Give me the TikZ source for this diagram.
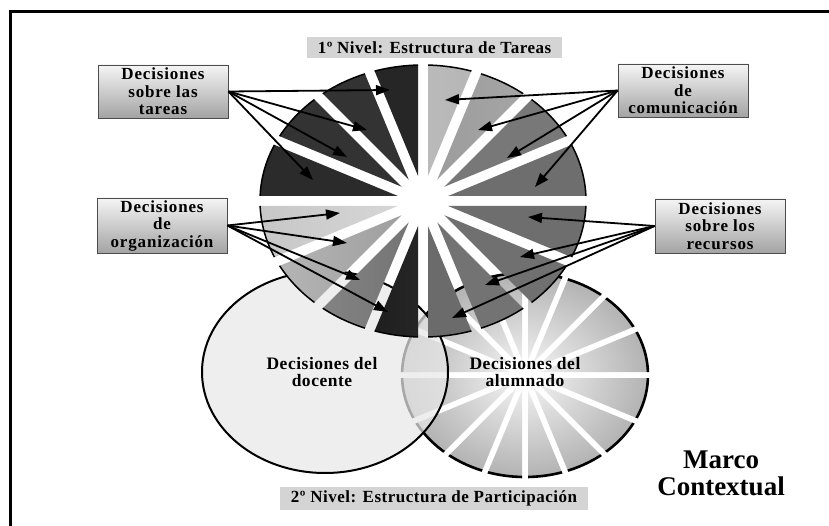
\documentclass[tikz,border=0pt]{standalone}
\usepackage{fontspec}
\setmainfont{Liberation Serif}
\newfontfamily\spacedfont[LetterSpace=5]{Liberation Serif}
\newfontfamily\titlefont[LetterSpace=3]{Liberation Serif}
\usetikzlibrary{calc,arrows.meta}
% one wedge of an elliptic wheel: cx, cy, rx, ry, start angle, half gap, style
\newcommand\wseg[7]{%
  \begin{scope}
    \clip ($(#1,#2)+(#5+11.25:{#6/sin(11.25)})$) -- +(#5:500) -- +(#5+22.5:500) -- cycle;
    \path[#7] (#1,#2) ellipse [x radius=#3, y radius=#4];
  \end{scope}}
\tikzset{
  dbox/.style={draw=black!70, line width=0.8, top color=black!4, bottom color=black!36,
    minimum width=130, inner sep=0, align=center,
    font=\spacedfont\bfseries\fontsize{17}{17.5}\selectfont},
  ttl/.style={fill=black!17, inner sep=0, font=\titlefont\bfseries\fontsize{17}{18}\selectfont},
  arr/.style={line width=1.8, -{Triangle[length=14pt,width=10pt]}},
  mw/.style={draw=black, line width=1.5},
  aw/.style={shade, inner color=black!3, outer color=black!30, draw=black, line width=2.6},
  elab/.style={align=center, font=\titlefont\bfseries\fontsize{17.5}{17.5}\selectfont}
}
\begin{document}
\begin{tikzpicture}[x=1pt,y=1pt]
\useasboundingbox (0,0) rectangle (829,525);
\clip (0,0) rectangle (829,525);
% frame
\draw[line width=3] (10,-20) -- (10,513.5) -- (860,513.5);
% second level: student wheel
\foreach \k in {0,...,15} {\wseg{525}{150}{123}{102}{\k*22.5}{3}{aw}}
% teacher ellipse
\path[fill=black!9, fill opacity=0.72, draw=black, line width=2] (325,153) ellipse [x radius=123, y radius=101];
% first level wheel
\wseg{423}{324}{163}{136}{0}{5}{mw, fill=black!57}
\wseg{423}{324}{163}{136}{22.5}{5}{mw, fill=black!53}
\wseg{423}{324}{163}{136}{45}{5}{mw, left color=black!45, right color=black!33}
\wseg{423}{324}{163}{136}{67.5}{5}{mw, left color=black!22, right color=black!32}
\wseg{423}{324}{163}{136}{90}{5}{mw, fill=black!85}
\wseg{423}{324}{163}{136}{112.5}{5}{mw, fill=black!80}
\wseg{423}{324}{163}{136}{135}{5}{mw, fill=black!80}
\wseg{423}{324}{163}{136}{157.5}{5}{mw, fill=black!83}
\wseg{423}{324}{163}{136}{180}{5}{mw, left color=black!22, right color=black!8}
\wseg{423}{324}{163}{136}{202.5}{5}{mw, left color=black!28, right color=black!50}
\wseg{423}{324}{163}{136}{225}{5}{mw, left color=black!45, right color=black!65}
\wseg{423}{324}{163}{136}{247.5}{5}{mw, left color=black!95, right color=black!75}
\wseg{423}{324}{163}{136}{270}{5}{mw, fill=black!58}
\wseg{423}{324}{163}{136}{292.5}{5}{mw, fill=black!55}
\wseg{423}{324}{163}{136}{315}{5}{mw, fill=black!56}
\wseg{423}{324}{163}{136}{337.5}{5}{mw, fill=black!57}
% titles
\node[ttl, minimum width=255, minimum height=21] (niv1) at (434.5,477.5) {1º Nivel: Estructura de Tareas};
\node[ttl, minimum width=308, minimum height=23] (niv2) at (434,26.5) {2º Nivel: Estructura de Participación};
% decision boxes
\node[dbox, minimum height=53] (tar) at (163,433.5) {Decisiones\\sobre las\\tareas};
\node[dbox, minimum height=55] (org) at (162,299.5) {Decisiones\\de\\organización};
\node[dbox, minimum height=53] (com) at (683,434.5) {Decisiones\\de\\comunicación};
\node[dbox, minimum height=54] (rec) at (720,299) {Decisiones\\sobre los\\recursos};
% ellipse labels
\node[elab] (doc) at (322,153) {Decisiones del\\docente};
\node[elab] (alu) at (525,153) {Decisiones del\\alumnado};
\node[align=center, font=\bfseries\fontsize{27}{27}\selectfont] (marco) at (721,52) {Marco\\Contextual};
% arrow targets
\coordinate (t1) at (390,435); \coordinate (t2) at (367,395);
\coordinate (t3) at (347,368); \coordinate (t4) at (313,345);
\coordinate (o1) at (340,312); \coordinate (o2) at (347,282);
\coordinate (o3) at (360,245); \coordinate (o4) at (388,213);
\coordinate (c1) at (445,425); \coordinate (c2) at (478,395);
\coordinate (c3) at (507,367); \coordinate (c4) at (535,338);
\coordinate (r1) at (528,308); \coordinate (r2) at (520,268);
\coordinate (r3) at (485,240); \coordinate (r4) at (452,207);
\foreach \p in {t1,t2,t3,t4} \draw[arr] (tar.east) -- (\p);
\foreach \p in {o1,o2,o3,o4} \draw[arr] (org.east) -- (\p);
\foreach \p in {c1,c2,c3,c4} \draw[arr] (com.west) -- (\p);
\foreach \p in {r1,r2,r3,r4} \draw[arr] (rec.west) -- (\p);
\end{tikzpicture}
\end{document}
